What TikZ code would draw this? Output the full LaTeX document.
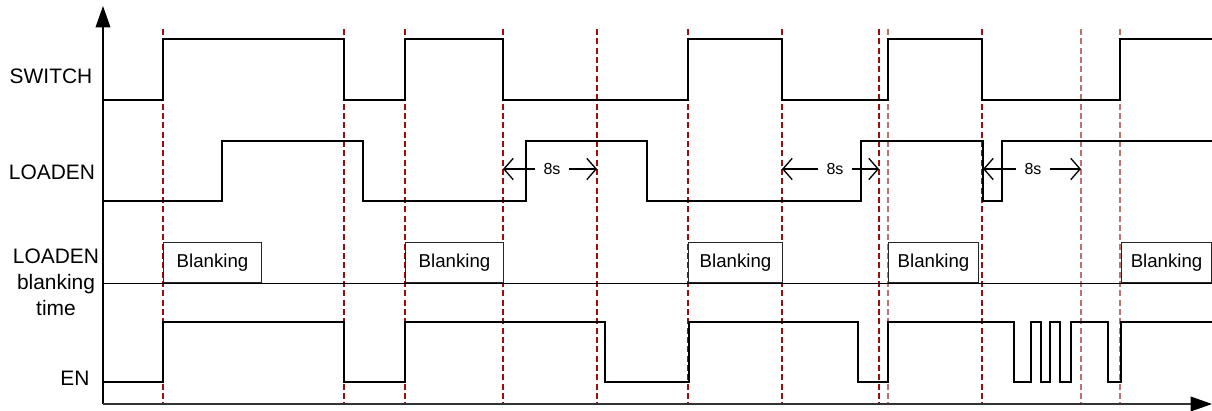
\documentclass[tikz,border=0pt]{standalone}
\usepackage{fontspec}
\setmainfont{Liberation Sans}
\usetikzlibrary{arrows.meta, positioning}
\definecolor{guidered}{HTML}{990F0F}
\definecolor{guidepink}{HTML}{C07070}

\begin{document}
\begin{tikzpicture}[x=0.75pt, y=-0.75pt,
  sig/.style={draw=black, line width=1.7pt, line join=miter},
  axis/.style={draw=black!80, line width=1.1pt, -{Triangle[length=16pt, width=11pt, color=black]}},
  guide/.style={draw=guidered, line width=0.8pt, dash pattern=on 4.5pt off 2.5pt},
  guidelt/.style={guide, draw=guidepink},
  lbl/.style={font=\fontsize{15.7}{19.5}\selectfont, align=center, inner sep=0pt},
  blankbox/.style={draw=black!85, fill=white, line width=0.8pt, minimum height=30pt, anchor=south west, inner sep=0pt, font=\fontsize{14}{16}\selectfont},
  dur/.style={font=\fontsize{12}{14}\selectfont, inner sep=6pt},
  dimarr/.style={draw=black, line width=1pt, -{Straight Barb[length=7pt, width=16pt]}}]
\useasboundingbox (0,0) rectangle (1212,410);
% guide lines at the switching instants
\foreach \x in {163,344,405,503,597,688,782,879,982}
  \draw[guide] (\x,29) -- (\x,404);
\foreach \x in {888,1081,1120}
  \draw[guidelt] (\x,29) -- (\x,404);
% axes
\coordinate (origin) at (103,404);
\coordinate (ytip) at (103,6);
\coordinate (xtip) at (1212,404);
\draw[axis, draw=black] (origin) -- (ytip);
\draw[axis] (origin) -- (xtip);
% row labels
\node[lbl] (swlab) at (51,76) {SWITCH};
\node[lbl] (ldlab) at (52,172) {LOADEN};
\node[lbl] (bklab) at (56,282) {LOADEN\\blanking\\time};
\node[lbl] (enlab) at (75,378) {EN};
% SWITCH
\draw[sig] (103,100) -| (163,39) -| (344,100) -| (405,39) -| (503,100) -| (688,39)
  -| (782,100) -| (888,39) -| (982,100) -| (1120,39) -- (1212,39);
% LOADEN
\draw[sig] (103,201) -| (222,141) -| (363,201) -| (526,141) -| (647,201) -| (861,141)
  -| (983,201) -| (1002,141) -- (1212,141);
% blanking time
\draw[line width=0.75pt] (103,283) -- (1212,283);
\foreach \x/\w/\n in {163/98/1,405/98/2,688/94/3,888/90/4,1121/90/5}
  \node[blankbox, minimum width=\w*0.75pt] (blank\n) at (\x,283) {Blanking};
% EN
\draw[sig] (103,382) -| (163,322) -| (344,382) -| (405,322) -| (605,382) -| (689,322)
  -| (858,382) -| (888,322) -| (1014,382) -| (1031,322) -| (1041,382) -| (1050,322)
  -| (1060,382) -| (1071,322) -| (1108,382) -| (1121,322) -- (1212,322);
% 8s intervals
\foreach \a/\b/\c/\n in {503/597/552/1,782/879/835/2,983/1081/1033/3} {
  \coordinate (dl\n) at (\a,169);
  \coordinate (dr\n) at (\b,169);
  \node[dur] (dt\n) at (\c,169) {8s};
  \draw[dimarr] (dt\n.west) -- (dl\n);
  \draw[dimarr] (dt\n.east) -- (dr\n);
}
\end{tikzpicture}
\end{document}
